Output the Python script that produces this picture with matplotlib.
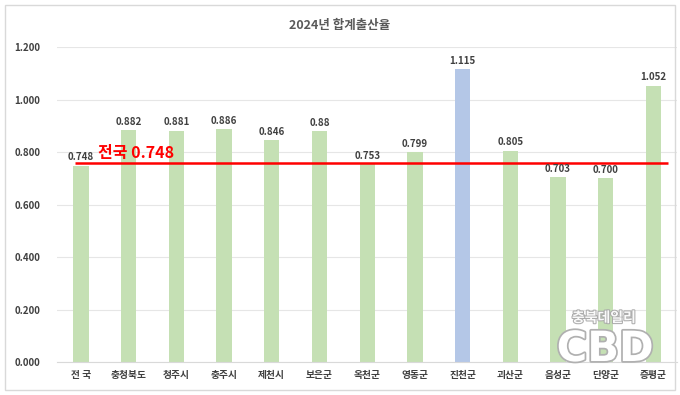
import matplotlib.pyplot as plt
import matplotlib.patheffects as pe
from matplotlib.patches import Rectangle
import numpy as np

plt.rcParams['font.family'] = ['Noto Sans CJK KR', 'DejaVu Sans']

# data
regions = ['전 국', '충청북도', '청주시', '충주시', '제천시', '보은군', '옥천군',
           '영동군', '진천군', '괴산군', '음성군', '단양군', '증평군']
rates = [0.748, 0.882, 0.881, 0.886, 0.846, 0.880, 0.753,
         0.799, 1.115, 0.805, 0.703, 0.700, 1.052]
value_labels = ['0.748', '0.882', '0.881', '0.886', '0.846', '0.88', '0.753',
                '0.799', '1.115', '0.805', '0.703', '0.700', '1.052']
highlight = '진천군'
national_line = 0.757
national_text = '전국 0.748'

green = '#C5E0B4'
blue = '#B4C7E7'
txt = '#404040'

fig = plt.figure(figsize=(6.8, 3.95), dpi=100)
fig.patches.append(Rectangle((0.008, 0.013), 0.985, 0.975, transform=fig.transFigure,
                             fill=False, edgecolor='#D9D9D9', lw=1.0))
ax = fig.add_axes([0.084, 0.0835, 0.912, 0.7975])

x = np.arange(len(regions))
colors = [blue if r == highlight else green for r in regions]
ax.bar(x, rates, width=0.32, color=colors, zorder=2)

for xi, v, lab in zip(x, rates, value_labels):
    ax.text(xi, v + 0.013, lab, ha='center', va='bottom', fontsize=7,
            fontweight='bold', color=txt, zorder=4)

ax.hlines(national_line, -0.12, 12.3, color='#FF0000', lw=1.8, zorder=3)
ax.text(0.35, national_line + 0.01, national_text, ha='left', va='bottom',
        fontsize=11.5, fontweight='bold', color='#FF0000', zorder=4)

ax.set_xlim(-0.5, 12.5)
ax.set_ylim(0, 1.2)
ax.set_yticks(np.arange(0, 1.21, 0.2))
ax.set_yticklabels([f'{t:.3f}' for t in np.arange(0, 1.21, 0.2)])
ax.set_xticks(x)
ax.set_xticklabels(regions)
ax.tick_params(axis='both', length=0, labelsize=7, labelcolor=txt)
ax.tick_params(axis='y', pad=12)
ax.tick_params(axis='x', pad=6)
for lab in ax.get_xticklabels() + ax.get_yticklabels():
    lab.set_fontweight('bold')
ax.grid(axis='y', color='#E6E6E6', lw=0.8, zorder=0)
for s in ax.spines.values():
    s.set_visible(False)
ax.spines['bottom'].set_visible(True)
ax.spines['bottom'].set_color('#D9D9D9')

fig.text(0.5, 0.935, '2024년 합계출산율', ha='center', va='center', fontsize=9,
         fontweight='bold', color='#595959')

# watermark
fig.text(0.888, 0.195, '충북데일리', ha='center', va='center', fontsize=10,
         fontweight='bold', color='white', alpha=0.95,
         path_effects=[pe.withStroke(linewidth=1.5, foreground='#A8A8A8')])
fig.text(0.89, 0.086, 'CBD', ha='center', va='baseline', fontsize=30,
         fontweight='bold', color='white', fontfamily='DejaVu Sans',
         path_effects=[pe.withStroke(linewidth=2.5, foreground='#B0B0B0')])

fig.savefig('out.png', dpi=100)
